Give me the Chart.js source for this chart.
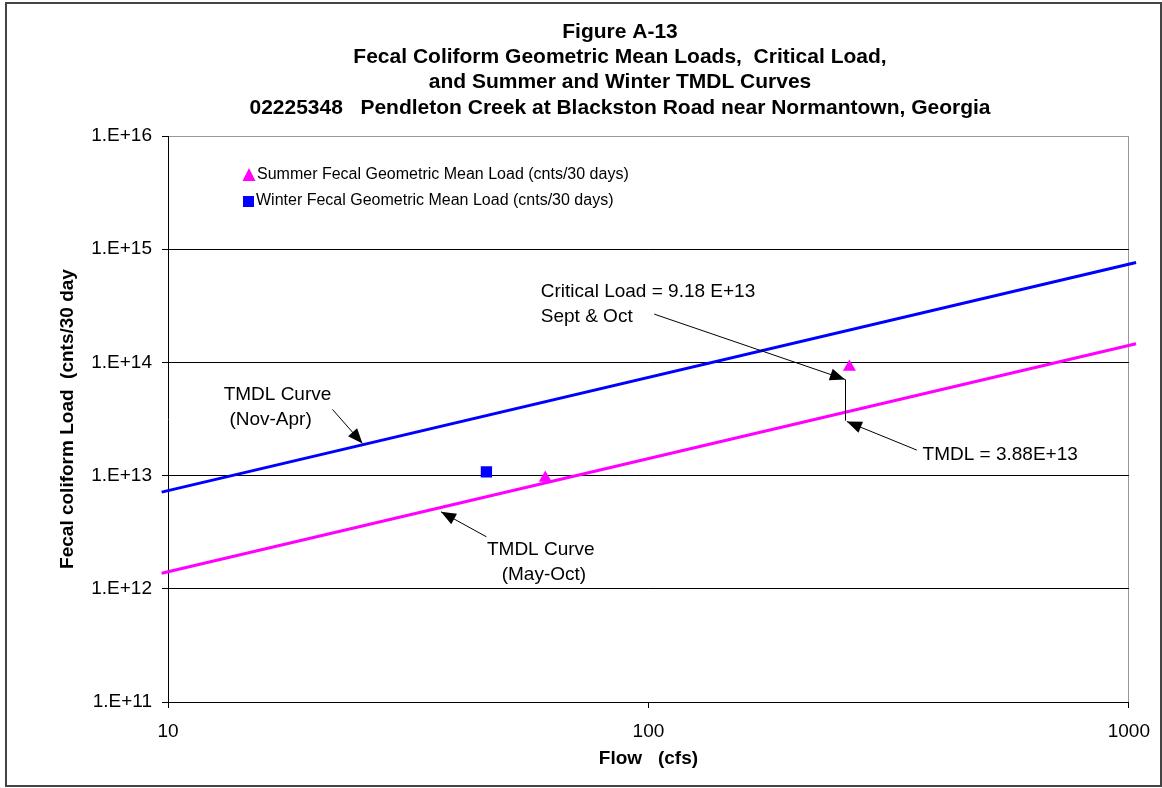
<!DOCTYPE html>
<html>
<head>
<meta charset="utf-8">
<script src="https://cdn.jsdelivr.net/npm/chart.js@4.4.1/dist/chart.umd.min.js"></script>
<style>
  html, body { margin: 0; padding: 0; background: #fff; }
</style>
</head>
<body>
<canvas id="chart" width="1162" height="788"></canvas>
<script>
// TMDL curves (flow in cfs, load in cnts/30 days)
const lineFlow = [9.7, 1035];
const winterTmdl = [7.15e12, 7.63e14];
const summerTmdl = [1.37e12, 1.46e14];

// geometric mean loads
const summerFlow = [61, 262];
const summerLoad = [9.5e12, 9.1e13];
const winterFlow = [46];
const winterLoad = [1.08e13];

const xTicks = [10, 100, 1000];
const yTicks = [1e11, 1e12, 1e13, 1e14, 1e15, 1e16];
const yTickLabels = ['1.E+11', '1.E+12', '1.E+13', '1.E+14', '1.E+15', '1.E+16'];

const titleLines = [
  'Figure A-13',
  'Fecal Coliform Geometric Mean Loads,  Critical Load,',
  'and Summer and Winter TMDL Curves',
  '02225348   Pendleton Creek at Blackston Road near Normantown, Georgia'
];
const legendLabels = [
  'Summer Fecal Geometric Mean Load (cnts/30 days)',
  'Winter Fecal Geometric Mean Load (cnts/30 days)'
];

// callouts, in data units (flow, load)
const arrows = [
  { from: [102.8, 2.67e14], to: [256.5, 7.08e13] },
  { from: [362, 1.68e13], to: [258.8, 3.0e13] },
  { from: [22.0, 3.84e13], to: [25.4, 1.92e13] },
  { from: [46.0, 2.88e12], to: [37.0, 4.79e12] }
];
const bracket = { from: [257, 7.08e13], to: [257, 3.06e13] };
const notes = [
  { text: 'Critical Load = 9.18 E+13', at: [59.7, 4.18e14], align: 'left' },
  { text: 'Sept & Oct', at: [59.7, 2.51e14], align: 'left' },
  { text: 'TMDL = 3.88E+13', at: [372, 1.52e13], align: 'left' },
  { text: 'TMDL Curve', at: [16.9, 5.14e13], align: 'center' },
  { text: '(Nov-Apr)', at: [16.35, 3.09e13], align: 'center' },
  { text: 'TMDL Curve', at: [59.7, 2.19e12], align: 'center' },
  { text: '(May-Oct)', at: [60.6, 1.32e12], align: 'center' }
];

const FONT = '"Liberation Sans", Arial, sans-serif';
const pink = '#FF00FF';
const blue = '#0000FF';

const toPts = (xs, ys) => xs.map((x, i) => ({ x: x, y: ys[i] }));

function drawArrowHead(ctx, x1, y1, x2, y2) {
  const ang = Math.atan2(y2 - y1, x2 - x1);
  const len = 15, half = 6;
  ctx.beginPath();
  ctx.moveTo(x2, y2);
  ctx.lineTo(x2 - len * Math.cos(ang) + half * Math.sin(ang), y2 - len * Math.sin(ang) - half * Math.cos(ang));
  ctx.lineTo(x2 - len * Math.cos(ang) - half * Math.sin(ang), y2 - len * Math.sin(ang) + half * Math.cos(ang));
  ctx.closePath();
  ctx.fill();
}

const extras = {
  id: 'extras',
  afterDraw(chart) {
    const ctx = chart.ctx;
    const xs = chart.scales.x, ys = chart.scales.y;
    const px = v => xs.getPixelForValue(v);
    const py = v => ys.getPixelForValue(v);
    ctx.save();

    // callout arrows
    ctx.strokeStyle = '#000';
    ctx.fillStyle = '#000';
    ctx.lineWidth = 1;
    arrows.forEach(a => {
      const x1 = px(a.from[0]), y1 = py(a.from[1]);
      const x2 = px(a.to[0]), y2 = py(a.to[1]);
      ctx.beginPath();
      ctx.moveTo(x1, y1);
      ctx.lineTo(x2, y2);
      ctx.stroke();
      drawArrowHead(ctx, x1, y1, x2, y2);
    });
    ctx.beginPath();
    ctx.moveTo(Math.round(px(bracket.from[0])) + 0.5, py(bracket.from[1]));
    ctx.lineTo(Math.round(px(bracket.to[0])) + 0.5, py(bracket.to[1]));
    ctx.stroke();

    // callout text
    ctx.font = '19px ' + FONT;
    ctx.textBaseline = 'middle';
    notes.forEach(n => {
      ctx.textAlign = n.align;
      ctx.fillText(n.text, px(n.at[0]), py(n.at[1]));
    });

    // legend inside the plot
    ctx.font = '16px ' + FONT;
    ctx.textAlign = 'left';
    ctx.fillStyle = pink;
    ctx.beginPath();
    ctx.moveTo(249, 168);
    ctx.lineTo(255.5, 181);
    ctx.lineTo(242.5, 181);
    ctx.closePath();
    ctx.fill();
    ctx.fillStyle = blue;
    ctx.fillRect(243, 196, 11, 11);
    ctx.fillStyle = '#000';
    ctx.fillText(legendLabels[0], 257, 175);
    ctx.fillText(legendLabels[1], 256, 201);

    // title
    ctx.font = 'bold 21px ' + FONT;
    ctx.textAlign = 'center';
    titleLines.forEach((t, i) => ctx.fillText(t, 620, 32 + i * 25.3));

    // outer frame
    ctx.strokeStyle = '#444';
    ctx.lineWidth = 2;
    ctx.strokeRect(6, 3, 1155, 783);
    ctx.restore();
  }
};

new Chart(document.getElementById('chart'), {
  type: 'scatter',
  data: {
    datasets: [
      {
        label: legendLabels[0],
        data: toPts(summerFlow, summerLoad),
        pointStyle: 'triangle',
        pointRadius: 7.5,
        pointHoverRadius: 7.5,
        backgroundColor: pink,
        borderColor: pink,
        borderWidth: 0
      },
      {
        label: legendLabels[1],
        data: toPts(winterFlow, winterLoad),
        pointStyle: 'rect',
        pointRadius: 8,
        pointHoverRadius: 8,
        backgroundColor: blue,
        borderColor: blue,
        borderWidth: 0
      },
      {
        label: 'TMDL Curve (Nov-Apr)',
        data: toPts(lineFlow, winterTmdl),
        showLine: true,
        pointRadius: 0,
        borderColor: blue,
        borderWidth: 3,
        clip: false
      },
      {
        label: 'TMDL Curve (May-Oct)',
        data: toPts(lineFlow, summerTmdl),
        showLine: true,
        pointRadius: 0,
        borderColor: pink,
        borderWidth: 3,
        clip: false
      }
    ]
  },
  options: {
    responsive: false,
    devicePixelRatio: 1,
    animation: false,
    layout: { padding: { left: 8, right: 32, top: 136, bottom: 6 } },
    plugins: {
      legend: { display: false },
      tooltip: { enabled: false }
    },
    scales: {
      x: {
        type: 'logarithmic',
        min: 10,
        max: 1000,
        afterBuildTicks: s => { s.ticks = xTicks.map(v => ({ value: v })); },
        afterFit: s => { s.height = 80; },
        ticks: {
          autoSkip: false,
          maxRotation: 0,
          padding: 12,
          color: '#000',
          font: { family: FONT, size: 19 },
          callback: v => String(v)
        },
        grid: {
          color: c => (c.tick && c.tick.value === 1000 ? '#999' : 'rgba(0,0,0,0)'),
          tickColor: '#000',
          tickLength: 6,
          lineWidth: 1
        },
        border: { color: '#000', width: 1 },
        title: {
          display: true,
          text: 'Flow   (cfs)',
          color: '#000',
          font: { family: FONT, size: 19, weight: 'bold' },
          padding: { top: 0, bottom: 12 }
        }
      },
      y: {
        type: 'logarithmic',
        min: 1e11,
        max: 1e16,
        afterBuildTicks: s => { s.ticks = yTicks.map(v => ({ value: v })); },
        afterFit: s => { s.width = 160; },
        ticks: {
          padding: 10,
          color: '#000',
          font: { family: FONT, size: 19 },
          callback: v => {
            const i = yTicks.indexOf(v);
            return i >= 0 ? yTickLabels[i] : '';
          }
        },
        grid: {
          color: c => (c.tick && c.tick.value === 1e16 ? '#999' : '#000'),
          tickColor: '#000',
          tickLength: 6,
          lineWidth: 1
        },
        border: { color: '#000', width: 1 },
        title: {
          display: true,
          text: 'Fecal coliform Load  (cnts/30 day',
          color: '#000',
          font: { family: FONT, size: 19, weight: 'bold' },
          padding: { top: 48, bottom: 0 }
        }
      }
    }
  },
  plugins: [extras]
});
</script>
</body>
</html>
